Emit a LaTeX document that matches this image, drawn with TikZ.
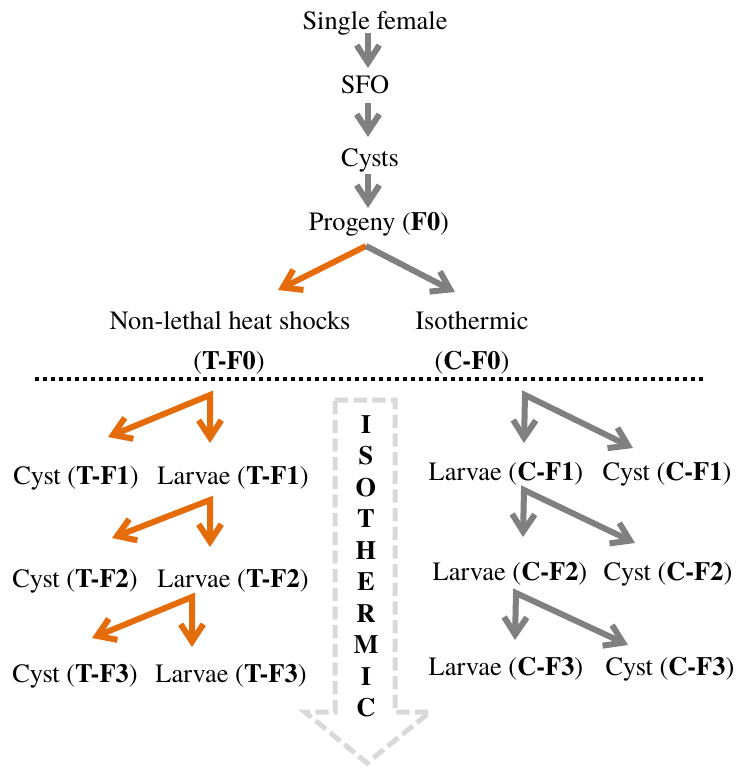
\documentclass[tikz,border=0pt]{standalone}
\usepackage{fontspec}
\IfFontExistsTF{texgyretermes-regular.otf}
  {\setmainfont{texgyretermes}[Extension=.otf, UprightFont=*-regular, BoldFont=*-bold]}
  {\setmainfont{Liberation Serif}}
\usetikzlibrary{arrows.meta}
\definecolor{flowgray}{HTML}{808080}
\definecolor{heatorange}{HTML}{E46C0A}
\definecolor{isogray}{HTML}{D9D9D9}
\begin{document}
\begin{tikzpicture}[x=0.75pt,y=-0.75pt,
  lbl/.style={anchor=base, inner sep=0pt, outer sep=0pt, font=\fontsize{19.8}{23.8}\selectfont},
  isoletter/.style={lbl, font=\fontsize{19.8}{23.8}\selectfont\bfseries},
  >={Straight Barb[length=13pt,width=17pt]},
  flow/.style={line width=4.5pt, line join=miter, draw=#1},
  divider/.style={line width=3pt, dash pattern=on 3pt off 3pt, draw=black},
  blockarrow/.style={line width=3.75pt, dash pattern=on 10pt off 4pt, draw=isogray, line join=miter}
]
\useasboundingbox (0,0) rectangle (737,769);

% ---- common origin ----
\node[lbl] (single) at (375,29)  {Single female};
\node[lbl] (sfo)    at (365,93)  {SFO};
\node[lbl] (cysts)  at (370,166) {Cysts};
\node[lbl] (prog)   at (379,230) {Progeny (\textbf{F0})};

\coordinate (a1s) at (368,33);  \coordinate (a1e) at (368,68);
\coordinate (a2s) at (368,103); \coordinate (a2e) at (368,137);
\coordinate (a3s) at (368,174); \coordinate (a3e) at (368,208);
\draw[flow=flowgray,->] (a1s) -- (a1e);
\draw[flow=flowgray,->] (a2s) -- (a2e);
\draw[flow=flowgray,->] (a3s) -- (a3e);

\coordinate (fork) at (366,246);
\coordinate (ftip) at (278,290);
\coordinate (gtip) at (455,292);
\draw[flow=heatorange,->] (fork) -- (ftip);
\draw[flow=flowgray,->]   (fork) -- (gtip);

% ---- treatments ----
\node[lbl] (heat) at (230,329) {Non-lethal heat shocks};
\node[lbl] (tf0)  at (229,369) {(\textbf{T-F0})};
\node[lbl] (isoth) at (472,329) {Isothermic};
\node[lbl] (cf0)  at (472,369) {(\textbf{C-F0})};

\coordinate (dl) at (35,379); \coordinate (dr) at (703,379);
\draw[divider] (dl) -- (dr);

% ---- heat-shocked line ----
\node[lbl] (tc1) at (76,484)  {Cyst (\textbf{T-F1})};
\node[lbl] (tl1) at (233,484) {Larvae (\textbf{T-F1})};
\node[lbl] (tc2) at (75,587)  {Cyst (\textbf{T-F2})};
\node[lbl] (tl2) at (233,587) {Larvae (\textbf{T-F2})};
\node[lbl] (tc3) at (75,682)  {Cyst (\textbf{T-F3})};
\node[lbl] (tl3) at (231,682) {Larvae (\textbf{T-F3})};

\coordinate (tk1) at (210,395); \coordinate (tk1a) at (108,437); \coordinate (tk1b) at (210,443);
\coordinate (tk2) at (210,500); \coordinate (tk2a) at (112,538); \coordinate (tk2b) at (210,547);
\coordinate (tk3) at (192,597); \coordinate (tk3a) at (92,638);  \coordinate (tk3b) at (192,647);
\draw[flow=heatorange,<->] (tk1a) -- (tk1) -- (tk1b);
\draw[flow=heatorange,<->] (tk2a) -- (tk2) -- (tk2b);
\draw[flow=heatorange,<->] (tk3a) -- (tk3) -- (tk3b);

% ---- isothermic line ----
\node[lbl] (cl1) at (506,480) {Larvae (\textbf{C-F1})};
\node[lbl] (cc1) at (667,480) {Cyst (\textbf{C-F1})};
\node[lbl] (cl2) at (510,580) {Larvae (\textbf{C-F2})};
\node[lbl] (cc2) at (668,580) {Cyst (\textbf{C-F2})};
\node[lbl] (cl3) at (506,675) {Larvae (\textbf{C-F3})};
\node[lbl] (cc3) at (670,675) {Cyst (\textbf{C-F3})};

\coordinate (ck1) at (525,395); \coordinate (ck1a) at (524,443); \coordinate (ck1b) at (633,448);
\coordinate (ck2) at (524,490); \coordinate (ck2a) at (523,537); \coordinate (ck2b) at (635,543);
\coordinate (ck3) at (516,593); \coordinate (ck3a) at (515,640); \coordinate (ck3b) at (628,645);
\draw[flow=flowgray,<->] (ck1a) -- (ck1) -- (ck1b);
\draw[flow=flowgray,<->] (ck2a) -- (ck2) -- (ck2b);
\draw[flow=flowgray,<->] (ck3a) -- (ck3) -- (ck3b);

% ---- dashed block arrow with vertical label ----
\draw[blockarrow] (335,400) -- (395,400) -- (395,712) -- (430,712)
  -- (367,763) -- (305,712) -- (335,712) -- cycle;
\foreach \ch [count=\i from 0] in {I,S,O,T,H,E,R,M,I,C}
  \node[isoletter] (iso\i) at (366,433+31.55*\i) {\ch};
\end{tikzpicture}
\end{document}
